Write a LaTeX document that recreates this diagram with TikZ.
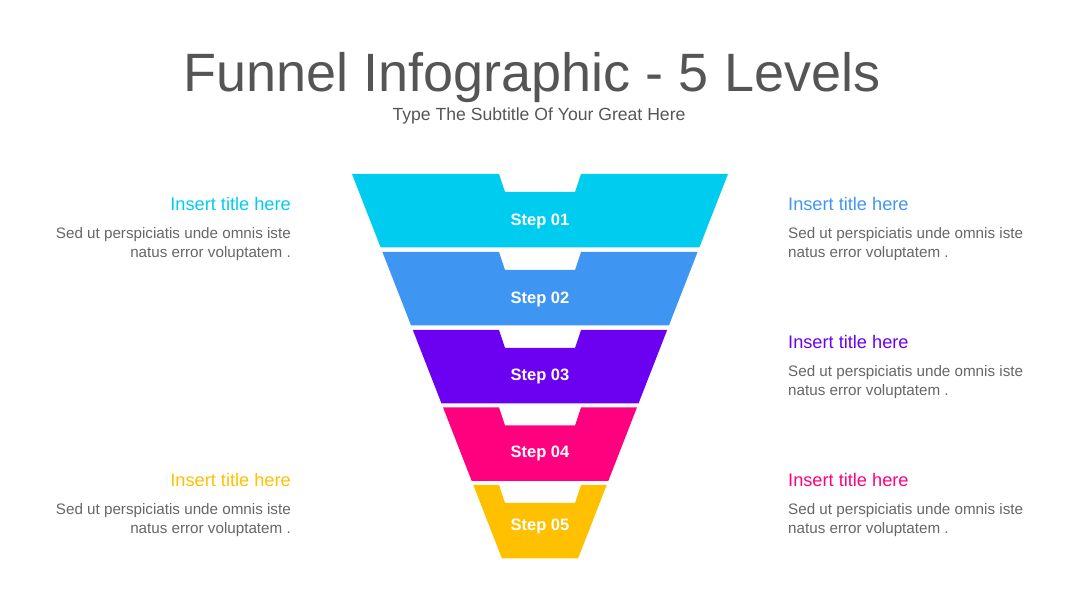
\documentclass[tikz,border=0pt]{standalone}
\usepackage{fontspec}
\setmainfont{Liberation Sans}
\definecolor{cA}{HTML}{00CCF0}
\definecolor{cB}{HTML}{3F96F2}
\definecolor{cC}{HTML}{6C00F0}
\definecolor{cD}{HTML}{FF007F}
\definecolor{cE}{HTML}{FFC000}
\definecolor{txtgray}{HTML}{666666}
\definecolor{titlegray}{HTML}{555555}
\tikzset{
  steplabel/.style={text=white,font=\fontsize{16.5}{18}\selectfont\bfseries,anchor=base,inner sep=0pt},
  infotitleL/.style={font=\fontsize{18.2}{20}\selectfont,anchor=base east,inner sep=0pt},
  infotitleR/.style={font=\fontsize{18.2}{20}\selectfont,anchor=base west,inner sep=0pt},
  bodyL/.style={font=\fontsize{15.2}{19}\selectfont,text=txtgray,anchor=base east,inner sep=0pt},
  bodyR/.style={font=\fontsize{15.2}{19}\selectfont,text=txtgray,anchor=base west,inner sep=0pt},
}
\begin{document}
\begin{tikzpicture}[x=1pt,y=-1pt]
\useasboundingbox (0,0) rectangle (1080,609);
% title
\node[font=\fontsize{54}{60}\selectfont,text=titlegray,anchor=base,inner sep=0pt] (title) at (532,92) {Funnel Infographic - 5 Levels};
\node[font=\fontsize{17.6}{20}\selectfont,text=titlegray,anchor=base,inner sep=0pt] (subtitle) at (539,121) {Type The Subtitle Of Your Great Here};
% funnel pieces
\foreach \t/\c/\lbl/\ly [count=\i] in {174/cA/Step 01/226, 252/cB/Step 02/304, 330/cC/Step 03/381, 407.5/cD/Step 04/457.5, 485/cE/Step 05/531}{
  \pgfmathsetmacro{\b}{\t+73.5}
  \pgfmathsetmacro{\wt}{188-0.39*(\t-174)}
  \pgfmathsetmacro{\wb}{188-0.39*(\b-174)}
  \fill[\c] (540-\wt,\t) -- (499,\t) -- (505,\t+18) -- (575,\t+18) -- (581,\t) -- (540+\wt,\t)
     -- (540+\wb,\b) -- (540-\wb,\b) -- cycle;
  \node[steplabel] (step\i) at (540,\ly) {\lbl};
}
% left texts
\node[infotitleL,text=cA] (lt1) at (291,211) {Insert title here};
\node[bodyL] (lb1a) at (291,239) {Sed ut perspiciatis unde omnis iste};
\node[bodyL] (lb1b) at (291,258) {natus error voluptatem .};
\node[infotitleL,text=cE] (lt5) at (291,487) {Insert title here};
\node[bodyL] (lb5a) at (291,515) {Sed ut perspiciatis unde omnis iste};
\node[bodyL] (lb5b) at (291,534) {natus error voluptatem .};
% right texts
\node[infotitleR,text=cB] (rt2) at (788,211) {Insert title here};
\node[bodyR] (rb2a) at (788,239) {Sed ut perspiciatis unde omnis iste};
\node[bodyR] (rb2b) at (788,258) {natus error voluptatem .};
\node[infotitleR,text=cC] (rt3) at (788,349) {Insert title here};
\node[bodyR] (rb3a) at (788,377) {Sed ut perspiciatis unde omnis iste};
\node[bodyR] (rb3b) at (788,396) {natus error voluptatem .};
\node[infotitleR,text=cD] (rt4) at (788,487) {Insert title here};
\node[bodyR] (rb4a) at (788,515) {Sed ut perspiciatis unde omnis iste};
\node[bodyR] (rb4b) at (788,534) {natus error voluptatem .};
\end{tikzpicture}
\end{document}
